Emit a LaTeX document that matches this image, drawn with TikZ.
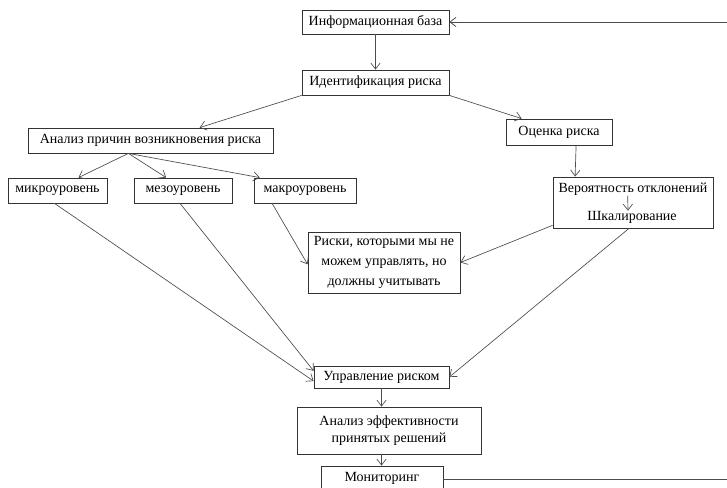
\documentclass[tikz,border=0pt]{standalone}
\usepackage{fontspec}
\setmainfont{Liberation Serif}
\usetikzlibrary{arrows.meta,calc}
\begin{document}
\begin{tikzpicture}[x=0.75pt,y=-0.75pt,
  txt/.style={font=\fontsize{10.5}{13}\selectfont, inner sep=0pt, align=center},
  box/.style={txt, draw=black!80, line width=0.6pt},
  arr/.style={draw=black!70, line width=0.5pt, -{Straight Barb[length=4.5pt,width=7pt]}},
  fb/.style={draw=black!70, line width=0.6pt, -{Straight Barb[length=4.5pt,width=7pt]}}]
\useasboundingbox (0,0) rectangle (727,488);
\node[box, minimum width=110.25pt, minimum height=18pt] (info) at (375.5,22) {Информационная база};
\node[box, minimum width=110.25pt, minimum height=18.75pt] (ident) at (375.5,82.5) {Идентификация риска};
\node[box, minimum width=183.75pt, minimum height=18.75pt] (cause) at (150.5,140.5) {Анализ причин возникновения риска};
\node[box, minimum width=74.25pt, minimum height=18.75pt] (micro) at (57.5,190.5) {микроуровень};
\node[box, minimum width=73.5pt, minimum height=18.75pt] (meso) at (183,190.5) {мезоуровень};
\node[box, minimum width=76.5pt, minimum height=18.75pt] (macro) at (305,190.5) {макроуровень};
\node[box, minimum width=114pt, minimum height=45.75pt, font=\fontsize{10.5}{15}\selectfont] (risks) at (384,262.5) {Риски, которыми мы не\\можем управлять, но\\должны учитывать};
\node[box, minimum width=79.5pt, minimum height=19.5pt] (est) at (559,132) {Оценка риска};
\node[box, minimum width=120pt, minimum height=38.25pt] (ver) at (633,202.5) {};
\node[txt] (v1) at (633,189) {Вероятность отклонений};
\node[txt] (v2) at (632,217) {Шкалирование};
\node[box, minimum width=101.25pt, minimum height=16.5pt] (upr) at (381.5,377) {Управление риском};
\node[box, minimum width=138pt, minimum height=35.25pt] (eff) at (389,430.5) {Анализ эффективности\\принятых решений};
\node[box, minimum width=91.5pt, minimum height=18.75pt] (mon) at (382,478.5) {Мониторинг};

\draw[arr] (info.south) -- (ident.north);
\draw[arr] (ident.south west) -- ($(cause.north west)!0.70!(cause.north east)$);
\draw[arr] (ident.south east) -- ($(est.north west)!0.15!(est.north east)$);
\coordinate (cb) at ($(cause.south west)!0.41!(cause.south east)$);
\draw[arr] (cb) -- ($(micro.north west)!0.71!(micro.north east)$);
\draw[arr] (cb) -- ($(meso.north west)!0.33!(meso.north east)$);
\draw[arr] (cb) -- ($(macro.north west)!0.06!(macro.north east)$);
\draw[arr] ($(est.south west)!0.66!(est.south east)$) -- ($(ver.north west)!0.14!(ver.north east)$);
\draw[arr] ([xshift=-4]v1.south) -- ([xshift=-3]v2.north);
\draw[arr] ($(macro.south west)!0.18!(macro.south east)$) -- ($(risks.north west)!0.53!(risks.south west)$);
\draw[arr] ($(ver.north west)!0.94!(ver.south west)$) -- ($(risks.north east)!0.5!(risks.south east)$);
\draw[arr] ($(ver.south west)!0.475!(ver.south east)$) -- (upr.east);
\draw[arr] ($(micro.south west)!0.47!(micro.south east)$) -- ($(upr.north west)!0.68!(upr.south west)$);
\draw[arr] ($(meso.south west)!0.47!(meso.south east)$) -- ($(upr.north west)!0.23!(upr.south west)$);
\draw[arr] (upr.south) -- (upr.south |- eff.north);
\draw[arr] (eff.south -| upr.south) -- (upr.south |- mon.north);
\draw[fb] ([yshift=-1]mon.east) -- ++(320,0) |- (info.east);
\end{tikzpicture}
\end{document}
